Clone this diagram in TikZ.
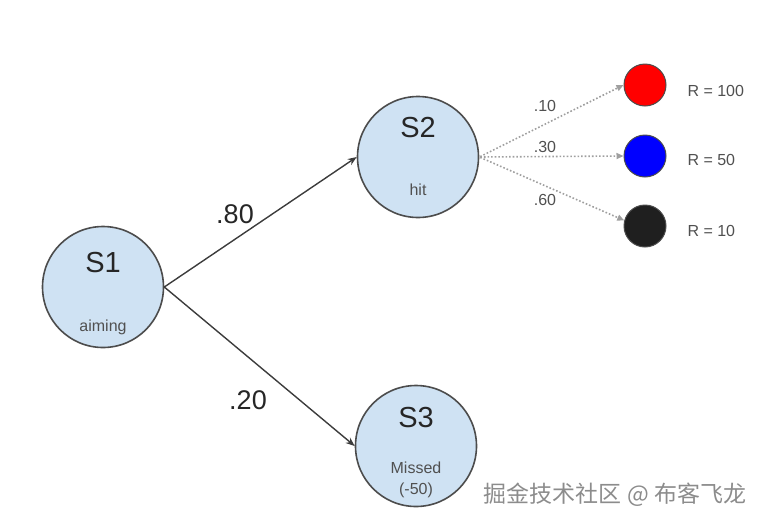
\documentclass[tikz,border=0pt]{standalone}
\usepackage{fontspec}
\setmainfont{Liberation Sans}
\newfontfamily\cjk{Noto Sans CJK SC}
\usetikzlibrary{arrows.meta,positioning,shapes.geometric}
\definecolor{statefill}{HTML}{CFE2F3}
\definecolor{edgegray}{HTML}{3C3C3C}
\definecolor{labelgray}{HTML}{505050}

\begin{document}
\begin{tikzpicture}[
    x=1pt, y=-1pt,
    state/.style={circle, draw=black!70, line width=1.6pt, fill=statefill, minimum size=121pt, inner sep=0pt},
    reward/.style={circle, draw=black!70, line width=1pt, minimum size=42pt, inner sep=0pt},
    statename/.style={font=\fontsize{29}{30}\selectfont, text=black!85},
    statedesc/.style={font=\fontsize{16}{18}\selectfont, text=labelgray},
    rlabel/.style={font=\fontsize{16}{18}\selectfont, text=labelgray, anchor=west},
    problabel/.style={font=\fontsize{27}{28}\selectfont, text=black!85},
    smallprob/.style={font=\fontsize{16}{17}\selectfont, text=labelgray},
    arrow/.style={-{Stealth[length=9pt,width=7pt]}, line width=1.4pt, draw=edgegray},
    dotarrow/.style={-{Triangle[length=7pt,width=6pt]}, line width=1.6pt, dotted, draw=gray!75, shorten <=1pt}
]
\useasboundingbox (0,0) rectangle (776,528);

% States
\node[state] (s1) at (103,287) {};
\node[state] (s2) at (418,157) {};
\node[state] (s3) at (416,446) {};

% State texts
\node[statename] (s1name) at (103,263) {S1};
\node[statedesc] (s1desc) at (103,327) {aiming};
\node[statename] (s2name) at (418,128) {S2};
\node[statedesc] (s2desc) at (418,190) {hit};
\node[statename] (s3name) at (416,418) {S3};
\node[statedesc] (s3desc) at (416,468) {Missed};
\node[statedesc] (s3val) at (416,490) {(-50)};

% Rewards
\node[reward, fill=red] (red) at (645,85) {};
\node[reward, fill=blue] (blue) at (645,156) {};
\node[reward, fill=black!88] (dark) at (645,226) {};

\node[rlabel] (rred) at (684,91) {R = 100};
\node[rlabel] (rblue) at (684,160) {R = 50};
\node[rlabel] (rdark) at (684,231) {R = 10};

% Transitions
\draw[arrow] (s1.east) -- (s2.west);
\draw[arrow] (s1.east) -- (s3.west);
\node[problabel] (p80) at (235,214) {.80};
\node[problabel] (p20) at (248,400) {.20};

% Outcomes of hit
\draw[dotarrow] (s2.east) -- (red.west);
\draw[dotarrow] (s2.east) -- (blue.west);
\draw[dotarrow] (s2.east) -- (dark.165);
\node[smallprob] (p10) at (545,106) {.10};
\node[smallprob] (p30) at (545,147) {.30};
\node[smallprob] (p60) at (545,200) {.60};

% Watermark
\node[font=\cjk\fontsize{23}{25}\selectfont, text=gray!90] (mark) at (615,495) {掘金技术社区 @ 布客飞龙};

\end{tikzpicture}
\end{document}
